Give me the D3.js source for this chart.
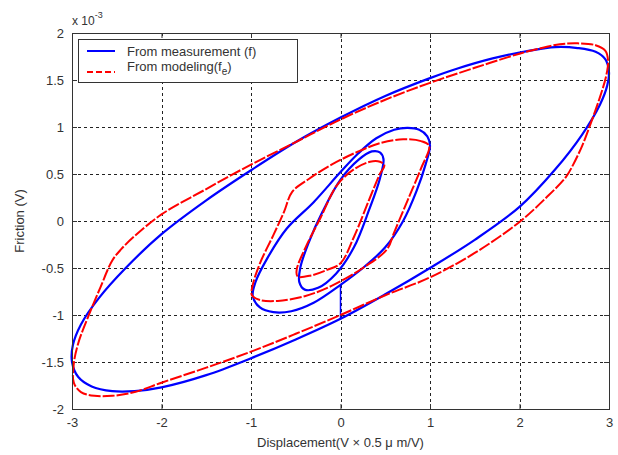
<!DOCTYPE html>
<html>
<head>
<meta charset="utf-8">
<script src="https://cdn.jsdelivr.net/npm/d3@7"></script>
<style>
  body { margin: 0; background: #fff; }
  svg text { font-family: "Liberation Sans", Arial, sans-serif; fill: #333; }
</style>
</head>
<body>
<svg id="chart" width="618" height="455"></svg>
<script>
// axis ticks
var xTicks = [-3, -2, -1, 0, 1, 2, 3];
var yTicks = [-2, -1.5, -1, -0.5, 0, 0.5, 1, 1.5, 2];

// friction values in units of 1e-3 V
var blueOuter = [
  [3.0, 1.58], [2.96, 1.72], [2.85, 1.80], [2.65, 1.84], [2.4, 1.85], [2.1, 1.81],
  [1.7, 1.73], [1.3, 1.62], [1.0, 1.52], [0.5, 1.33], [0.0, 1.1], [-0.5, 0.84],
  [-1.0, 0.54], [-1.5, 0.22], [-2.0, -0.14], [-2.4, -0.5], [-2.7, -0.82],
  [-2.9, -1.1], [-2.99, -1.32], [-3.0, -1.5], [-2.93, -1.66], [-2.78, -1.76],
  [-2.55, -1.81], [-2.3, -1.81], [-2.0, -1.77], [-1.5, -1.64], [-1.0, -1.46],
  [-0.5, -1.26], [0.0, -1.04], [0.5, -0.78], [1.0, -0.5], [1.5, -0.2],
  [2.0, 0.15], [2.4, 0.55], [2.7, 0.92], [2.9, 1.24], [2.98, 1.44]
];
var redOuter = [
  [2.99, 1.7], [2.96, 1.81], [2.85, 1.87], [2.65, 1.89], [2.45, 1.88], [2.2, 1.83],
  [2.0, 1.78], [1.5, 1.63], [1.0, 1.47], [0.5, 1.29], [0.0, 1.08], [-0.5, 0.84],
  [-1.0, 0.6], [-1.5, 0.34], [-2.0, 0.07], [-2.3, -0.16], [-2.45, -0.3],
  [-2.55, -0.42], [-2.68, -0.7], [-2.82, -1.02], [-2.93, -1.3], [-2.98, -1.52],
  [-2.98, -1.72], [-2.9, -1.82], [-2.75, -1.86], [-2.55, -1.86], [-2.3, -1.82],
  [-2.0, -1.72], [-1.5, -1.56], [-1.0, -1.39], [-0.5, -1.2], [0.0, -1.0],
  [0.5, -0.79], [1.0, -0.6], [1.5, -0.34], [2.0, -0.01], [2.3, 0.25],
  [2.52, 0.47], [2.6, 0.6], [2.7, 0.8], [2.8, 1.05], [2.9, 1.32], [2.97, 1.55]
];
var blueMiddle = [
  [1.0, 0.8], [0.97, 0.9], [0.88, 0.97], [0.75, 0.99], [0.6, 0.97], [0.4, 0.88],
  [0.2, 0.72], [0.0, 0.52], [-0.3, 0.2], [-0.6, -0.08], [-0.82, -0.4],
  [-0.95, -0.65], [-0.98, -0.8], [-0.9, -0.92], [-0.75, -0.97], [-0.55, -0.96],
  [-0.3, -0.87], [0.0, -0.68], [0.25, -0.5], [0.5, -0.28], [0.7, 0.0],
  [0.85, 0.32], [0.95, 0.6]
];
var redMiddle = [
  [0.99, 0.8], [0.9, 0.85], [0.7, 0.87], [0.45, 0.83], [0.2, 0.74], [-0.1, 0.6],
  [-0.35, 0.45], [-0.54, 0.31], [-0.63, 0.1], [-0.75, -0.15], [-0.9, -0.45],
  [-0.98, -0.68], [-0.99, -0.79], [-0.9, -0.84], [-0.7, -0.85], [-0.4, -0.8],
  [-0.1, -0.69], [0.25, -0.5], [0.52, -0.3], [0.6, -0.12], [0.75, 0.22], [0.9, 0.56]
];
var blueInner = [
  [0.48, 0.66], [0.44, 0.73], [0.35, 0.74], [0.2, 0.65], [0.0, 0.44], [-0.2, 0.1],
  [-0.36, -0.24], [-0.45, -0.5], [-0.46, -0.65], [-0.4, -0.73], [-0.25, -0.71],
  [-0.05, -0.56], [0.15, -0.28], [0.32, 0.12], [0.44, 0.45]
];
var redInner = [
  [0.49, 0.59], [0.44, 0.63], [0.33, 0.63], [0.15, 0.55], [-0.04, 0.38], [-0.22, 0.04],
  [-0.39, -0.28], [-0.49, -0.52], [-0.48, -0.59], [-0.33, -0.58], [-0.15, -0.52],
  [0.0, -0.45], [0.15, -0.17], [0.33, 0.25], [0.44, 0.5]
];
var blueJump = [[0.0, -0.68], [0.0, -1.05]];

var svg = d3.select("#chart"),
    margin = {top: 33, right: 9, bottom: 46, left: 72},
    w = +svg.attr("width") - margin.left - margin.right,
    h = +svg.attr("height") - margin.top - margin.bottom;

var x = d3.scaleLinear().domain([-3, 3]).range([0, w]);
var y = d3.scaleLinear().domain([-2, 2]).range([h, 0]);

var g = svg.append("g")
    .attr("transform", "translate(" + margin.left + "," + margin.top + ")");

// dotted grid
g.append("g").selectAll("line")
    .data(xTicks.slice(1, -1))
  .enter().append("line")
    .attr("x1", function(d) { return Math.round(x(d)) + 0.5; })
    .attr("x2", function(d) { return Math.round(x(d)) + 0.5; })
    .attr("y1", 0).attr("y2", h)
    .attr("stroke", "#222").attr("stroke-dasharray", "3,3");
g.append("g").selectAll("line")
    .data(yTicks.slice(1, -1))
  .enter().append("line")
    .attr("y1", function(d) { return Math.round(y(d)) + 0.5; })
    .attr("y2", function(d) { return Math.round(y(d)) + 0.5; })
    .attr("x1", 0).attr("x2", w)
    .attr("stroke", "#222").attr("stroke-dasharray", "3,3");

// axes with inward ticks, labels done by hand so minus stays a hyphen
var fmt = function(d) { return String(d); };
g.append("g")
    .attr("class", "axis")
    .attr("transform", "translate(0," + h + ")")
    .call(d3.axisBottom(x).tickValues(xTicks).tickSizeInner(-5).tickSizeOuter(0).tickPadding(9).tickFormat(fmt));
g.append("g")
    .attr("class", "axis")
    .call(d3.axisLeft(y).tickValues(yTicks).tickSizeInner(-5).tickSizeOuter(0).tickPadding(8).tickFormat(fmt));
g.append("g")
    .call(d3.axisTop(x).tickValues(xTicks).tickSizeInner(-5).tickSizeOuter(0).tickFormat(""));
g.append("g")
    .attr("transform", "translate(" + w + ",0)")
    .call(d3.axisRight(y).tickValues(yTicks).tickSizeInner(-5).tickSizeOuter(0).tickFormat(""));

g.selectAll(".domain").remove();
g.selectAll(".tick line").attr("stroke", "#333");
g.selectAll(".axis text")
    .style("font-size", "13px")
    .style("font-family", "'Liberation Sans', Arial, sans-serif")
    .attr("fill", "#333");

// loops
var loop = d3.line()
    .x(function(d) { return x(d[0]); })
    .y(function(d) { return y(d[1]); })
    .curve(d3.curveCatmullRomClosed.alpha(0.5));
var seg = d3.line()
    .x(function(d) { return x(d[0]); })
    .y(function(d) { return y(d[1]); });

[blueOuter, blueMiddle, blueInner].forEach(function(pts) {
  g.append("path")
      .attr("d", loop(pts))
      .attr("fill", "none")
      .attr("stroke", "#0000ff")
      .attr("stroke-width", 2.2);
});
g.append("path")
    .attr("d", seg(blueJump))
    .attr("fill", "none")
    .attr("stroke", "#0000ff")
    .attr("stroke-width", 1.5);

[redOuter, redMiddle, redInner].forEach(function(pts) {
  g.append("path")
      .attr("d", loop(pts))
      .attr("fill", "none")
      .attr("stroke", "#ff0000")
      .attr("stroke-width", 2)
      .attr("stroke-dasharray", "12,2");
});

// frame
g.append("rect")
    .attr("x", 0.5).attr("y", 0.5)
    .attr("width", w).attr("height", h)
    .attr("fill", "none")
    .attr("stroke", "#333");

// exponent
var ex = svg.append("text")
    .attr("x", 72).attr("y", 25)
    .style("font-size", "12px");
ex.append("tspan").text("x 10");
ex.append("tspan").attr("dy", -7).style("font-size", "9px").text("-3");

// legend
var leg = svg.append("g").attr("transform", "translate(78,39)");
leg.append("rect")
    .attr("x", 0.5).attr("y", 0.5)
    .attr("width", 219).attr("height", 43)
    .attr("fill", "#fff").attr("stroke", "#333");
leg.append("line")
    .attr("x1", 9).attr("x2", 37).attr("y1", 12).attr("y2", 12)
    .attr("stroke", "#0000ff").attr("stroke-width", 2);
leg.append("line")
    .attr("x1", 9).attr("x2", 37).attr("y1", 33).attr("y2", 33)
    .attr("stroke", "#ff0000").attr("stroke-width", 2).attr("stroke-dasharray", "6,3");
leg.append("text")
    .attr("x", 49).attr("y", 17)
    .style("font-size", "13px")
    .text("From measurement (f)");
var t2 = leg.append("text")
    .attr("x", 49).attr("y", 32)
    .style("font-size", "13px");
t2.append("tspan").text("From modeling(f");
t2.append("tspan").attr("dy", 4).style("font-size", "10px").text("e");
t2.append("tspan").attr("dy", -4).text(")");

// axis titles
svg.append("text")
    .attr("x", margin.left + w / 2).attr("y", 447)
    .attr("text-anchor", "middle")
    .style("font-size", "13px")
    .text("Displacement(V \u00d7 0.5 \u03bc m/V)");
svg.append("text")
    .attr("transform", "translate(24," + (margin.top + h / 2) + ") rotate(-90)")
    .attr("text-anchor", "middle")
    .style("font-size", "13px")
    .text("Friction (V)");
</script>
</body>
</html>
